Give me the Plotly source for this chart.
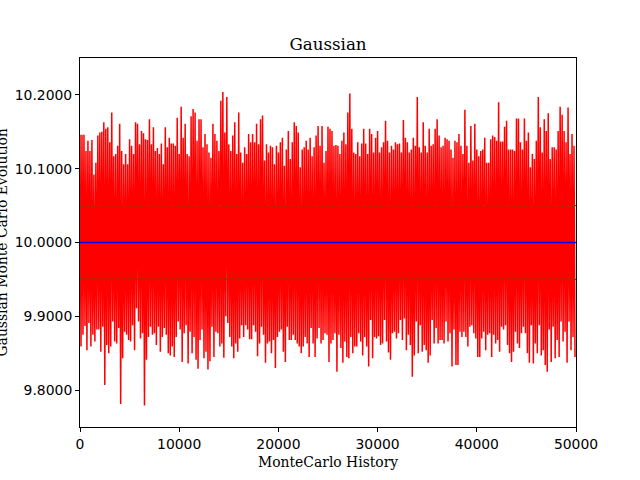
import plotly.graph_objects as go

# Envelope readings of the Monte Carlo trace: one upper and one lower value per ~200 histories
step = 200
upper = [
    10.146, 10.146, 10.146, 10.124, 10.138, 10.124, 10.139, 10.092, 10.108, 10.145,
    10.149, 10.150, 10.163, 10.154, 10.156, 10.136, 10.176, 10.117, 10.120, 10.131,
    10.161, 10.124, 10.106, 10.120, 10.106, 10.140, 10.131, 10.120, 10.163, 10.161,
    10.133, 10.151, 10.148, 10.140, 10.139, 10.167, 10.133, 10.156, 10.124, 10.128,
    10.120, 10.134, 10.106, 10.156, 10.129, 10.142, 10.134, 10.134, 10.131, 10.169,
    10.120, 10.184, 10.142, 10.161, 10.120, 10.117, 10.171, 10.181, 10.176, 10.138,
    10.167, 10.167, 10.129, 10.147,
    10.133, 10.122, 10.115, 10.161, 10.147, 10.138, 10.124, 10.192, 10.204,
    10.149, 10.197, 10.133, 10.124, 10.145, 10.163, 10.120, 10.176, 10.122, 10.108,
    10.129, 10.120, 10.147, 10.136, 10.147, 10.136, 10.161, 10.133, 10.167, 10.172,
    10.111, 10.133, 10.122, 10.131, 10.129, 10.106, 10.131, 10.122, 10.136, 10.142,
    10.104, 10.126, 10.151, 10.113, 10.136, 10.163, 10.158, 10.149, 10.102, 10.126,
    10.129, 10.138, 10.126, 10.142, 10.117, 10.129, 10.145, 10.158, 10.131, 10.158,
    10.108, 10.124, 10.157, 10.154, 10.151,
    10.131, 10.132, 10.131, 10.120, 10.138, 10.149, 10.133, 10.176, 10.202, 10.154,
    10.122, 10.120, 10.136, 10.117, 10.134, 10.154, 10.134, 10.120, 10.154, 10.147,
    10.122, 10.142, 10.151, 10.122, 10.129, 10.136, 10.165, 10.138, 10.122, 10.131,
    10.126, 10.136, 10.133, 10.134, 10.122, 10.166, 10.142, 10.136, 10.122, 10.126,
    10.142, 10.131, 10.197, 10.129, 10.122, 10.163, 10.131, 10.122, 10.154, 10.131,
    10.133, 10.154, 10.167, 10.145, 10.129, 10.131, 10.142, 10.140, 10.138, 10.126,
    10.115, 10.138,
    10.136, 10.147, 10.131, 10.120, 10.180, 10.131, 10.108, 10.158, 10.111, 10.161,
    10.126, 10.117, 10.124, 10.126, 10.142, 10.108, 10.108, 10.140, 10.145, 10.143,
    10.138, 10.190, 10.137, 10.137, 10.157, 10.165, 10.126, 10.126, 10.126, 10.124,
    10.168, 10.168, 10.136, 10.126, 10.168, 10.138, 10.149, 10.102, 10.120, 10.113,
    10.138, 10.197, 10.156, 10.122, 10.167, 10.151, 10.175, 10.113, 10.129, 10.129,
    10.126, 10.151, 10.184, 10.173, 10.151, 10.136, 10.183, 10.120, 10.147, 10.131,
]
lower = [
    9.859, 9.875, 9.887, 9.854, 9.891, 9.859, 9.875, 9.866, 9.882, 9.882,
    9.852, 9.886, 9.807, 9.861, 9.850, 9.859, 9.893, 9.866, 9.863, 9.884,
    9.781, 9.843, 9.879, 9.875, 9.868, 9.866, 9.888, 9.854, 9.911, 9.893,
    9.870, 9.877, 9.779, 9.841, 9.872, 9.886, 9.875, 9.877, 9.861, 9.886,
    9.852, 9.872, 9.884, 9.875, 9.850, 9.847, 9.859, 9.845, 9.872, 9.893,
    9.882, 9.838, 9.877, 9.888, 9.836, 9.879, 9.850, 9.872, 9.841, 9.829,
    9.868, 9.882, 9.843, 9.852,
    9.828, 9.839, 9.886, 9.845, 9.879, 9.877, 9.859, 9.863, 9.844, 9.900,
    9.891, 9.872, 9.859, 9.843, 9.863, 9.852, 9.870, 9.888, 9.872, 9.888,
    9.882, 9.869, 9.869, 9.888, 9.879, 9.846, 9.863, 9.886, 9.875, 9.837,
    9.863, 9.866, 9.850, 9.868, 9.830, 9.872, 9.879, 9.882, 9.852, 9.838,
    9.886, 9.868, 9.868, 9.875, 9.868, 9.863, 9.859, 9.850, 9.859, 9.872,
    9.863, 9.845, 9.884, 9.863, 9.845, 9.870, 9.884, 9.863, 9.868, 9.877,
    9.875, 9.838, 9.863, 9.868,
    9.877, 9.825, 9.875, 9.857, 9.837, 9.866, 9.845, 9.843, 9.872, 9.850,
    9.859, 9.859, 9.877, 9.866, 9.847, 9.872, 9.859, 9.832, 9.895, 9.843,
    9.872, 9.870, 9.873, 9.861, 9.863, 9.895, 9.866, 9.851, 9.841, 9.877,
    9.879, 9.870, 9.877, 9.895, 9.868, 9.897, 9.854, 9.875, 9.861, 9.818,
    9.847, 9.893, 9.850, 9.888, 9.852, 9.861, 9.854, 9.837, 9.847, 9.895,
    9.863, 9.884, 9.863, 9.868, 9.868, 9.863, 9.893, 9.866, 9.877, 9.832,
    9.882, 9.834,
    9.834, 9.879, 9.872, 9.879, 9.872, 9.859, 9.886, 9.888, 9.877, 9.870,
    9.845, 9.845, 9.870, 9.879, 9.854, 9.875, 9.877, 9.845, 9.875, 9.863,
    9.868, 9.852, 9.886, 9.882, 9.888, 9.861, 9.850, 9.838, 9.852, 9.879,
    9.863, 9.857, 9.877, 9.886, 9.877, 9.850, 9.837, 9.888, 9.836, 9.863,
    9.850, 9.888, 9.847, 9.854, 9.834, 9.825, 9.882, 9.838, 9.886, 9.843,
    9.868, 9.845, 9.893, 9.866, 9.879, 9.837, 9.893, 9.854, 9.872, 9.845,
]
mean_value = 10.0
band_low = 9.95
band_high = 10.05
x_range = [0, 50000]
y_range = [9.75, 10.25]
y_ticks = [9.8, 9.9, 10.0, 10.1, 10.2]
x_ticks = [0, 10000, 20000, 30000, 40000, 50000]

# interleave upper/lower readings into one trace
hist_x, hist_y = [], []
for k in range(min(len(upper), len(lower))):
    hist_x += [k * step, k * step + step // 2]
    hist_y += [upper[k], lower[k]]

fig = go.Figure()
fig.add_trace(go.Scatter(x=hist_x, y=hist_y, mode="lines",
                         line=dict(color="#ff0000", width=1.5, simplify=False),
                         hoverinfo="skip"))
fig.add_trace(go.Scatter(x=x_range, y=[mean_value, mean_value], mode="lines",
                         line=dict(color="#0000ff", width=1.5)))
fig.add_trace(go.Scatter(x=x_range + [None] + x_range,
                         y=[band_high, band_high, None, band_low, band_low],
                         mode="lines", connectgaps=False,
                         line=dict(color="#008000", width=1.3, dash="4px,2px")))

serif = "DejaVu Serif"
sans = "DejaVu Sans"
fig.update_layout(
    width=640, height=480,
    margin=dict(l=80, r=64, t=58, b=53),
    paper_bgcolor="white", plot_bgcolor="white",
    showlegend=False,
    title=dict(text="Gaussian", x=0.5, xref="paper", xanchor="center",
               y=1 - 44 / 480, yref="container", yanchor="middle",
               font=dict(family=serif, size=16.7, color="black")),
    annotations=[
        dict(text="MonteCarlo History", xref="paper", yref="paper", x=0.5, y=-35 / 369,
             xanchor="center", yanchor="middle", showarrow=False,
             font=dict(family=serif, size=13.9, color="black")),
        dict(text="Gaussian Monte Carlo Evolution", xref="paper", yref="paper",
             x=-79 / 496, y=0.5, xanchor="center", yanchor="middle", textangle=-90,
             showarrow=False, font=dict(family=serif, size=13.9, color="black")),
    ],
)
fig.update_xaxes(range=x_range, tickvals=x_ticks, ticktext=[str(t) for t in x_ticks],
                 showgrid=False, zeroline=False, showline=True, linecolor="black",
                 linewidth=1, mirror=True, ticks="outside", ticklen=4, tickcolor="black",
                 tickfont=dict(family=sans, size=13.9, color="black"))
fig.update_yaxes(range=y_range, tickvals=y_ticks, ticktext=[f"{t:.4f}" for t in y_ticks],
                 showgrid=False, zeroline=False, showline=True, linecolor="black",
                 linewidth=1, mirror=True, ticks="outside", ticklen=4, tickcolor="black",
                 tickfont=dict(family=sans, size=13.9, color="black"))

fig.write_html("out.html", config={"displayModeBar": False},
               post_script="document.body.style.margin='0';")
